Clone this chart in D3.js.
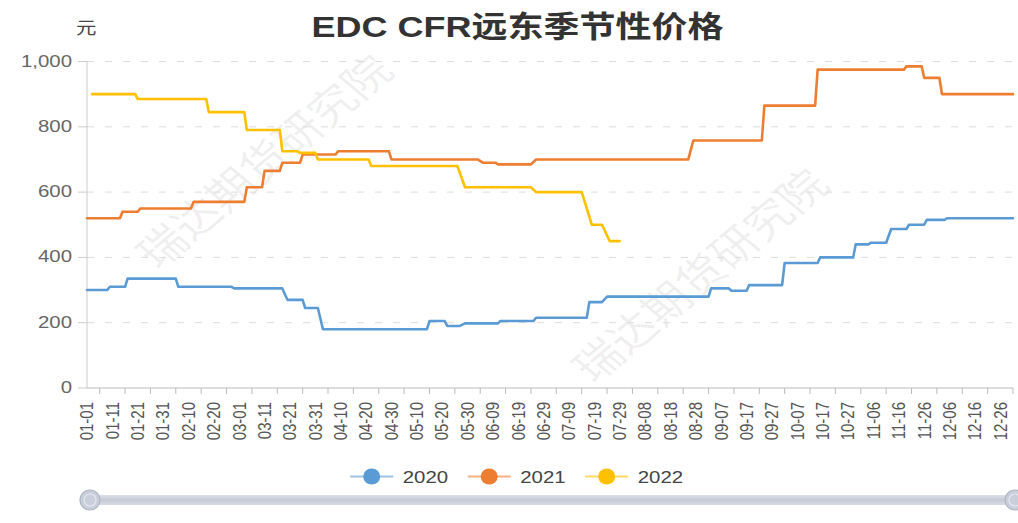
<!DOCTYPE html>
<html><head><meta charset="utf-8">
<script src="https://cdn.jsdelivr.net/npm/d3@7"></script>
<style>html,body{margin:0;padding:0;background:#fff;}svg{display:block;}</style>
</head><body>
<svg id="chart" width="1018" height="523"></svg>
<script>
// ---------- data ----------
const titleText = "EDC CFR远东季节性价格";
const unitText = "元";
const seriesNames = ["2020", "2021", "2022"];
const seriesColors = ["#5B9BD5", "#ED7D31", "#FFC000"];
const yTicks = [0, 200, 400, 600, 800, 1000];
const xTickLabels = ["01-01","01-11","01-21","01-31","02-10","02-20","03-01","03-11","03-21","03-31",
  "04-10","04-20","04-30","05-10","05-20","05-30","06-09","06-19","06-29","07-09","07-19","07-29",
  "08-08","08-18","08-28","09-07","09-17","09-27","10-07","10-17","10-27","11-06","11-16","11-26",
  "12-06","12-16","12-26"];
const s2020 = [["01-01",300],["01-09",300],["01-10",310],["01-16",310],["01-17",335],["02-05",335],["02-06",310],
  ["02-27",310],["02-28",305],["03-18",305],["03-20",270],["03-26",270],["03-27",245],["04-01",245],["04-03",180],
  ["05-14",180],["05-15",205],["05-21",205],["05-22",190],["05-27",190],["05-29",198],["06-11",198],["06-12",205],
  ["06-25",205],["06-26",215],["07-16",215],["07-17",263],["07-22",263],["07-24",280],["09-02",280],["09-03",305],
  ["09-10",305],["09-11",298],["09-17",298],["09-18",315],["10-01",315],["10-02",383],["10-15",383],["10-16",400],
  ["10-29",400],["10-30",440],["11-04",440],["11-05",445],["11-11",445],["11-13",487],["11-19",487],["11-20",500],
  ["11-26",500],["11-27",515],["12-04",515],["12-05",520],["12-31",520]];
const s2021 = [["01-01",520],["01-14",520],["01-15",540],["01-21",540],["01-22",550],["02-11",550],["02-12",570],
  ["03-03",570],["03-04",615],["03-10",615],["03-11",665],["03-17",665],["03-18",690],["03-25",690],["03-26",715],
  ["04-08",715],["04-09",725],["04-29",725],["04-30",700],["06-03",700],["06-05",690],["06-10",690],["06-11",685],
  ["06-24",685],["06-26",700],["08-25",700],["08-27",758],["09-23",758],["09-24",865],["10-14",865],["10-15",975],
  ["11-18",975],["11-19",985],["11-25",985],["11-26",950],["12-02",950],["12-03",900],["12-31",900]];
const s2022 = [["01-03",900],["01-20",900],["01-21",885],["02-17",885],["02-18",845],["03-03",845],["03-04",790],
  ["03-17",790],["03-18",725],["03-24",725],["03-25",720],["03-31",720],["04-01",700],["04-21",700],["04-22",680],
  ["05-26",680],["05-29",615],["06-24",615],["06-26",600],["07-14",600],["07-18",500],["07-22",500],["07-25",450],
  ["07-29",450]];
const watermark = "瑞达期货研究院";

// ---------- layout ----------
const SX = 1.2; // horizontal text stretch of the reference
const FONT = "'Liberation Sans','Noto Sans CJK SC',sans-serif";
const categories = d3.timeDay.range(new Date(2020,0,1), new Date(2021,0,1)).map(d3.timeFormat("%m-%d"));
const svg = d3.select("#chart").style("font-family", FONT);

const x = d3.scalePoint().domain(categories).range([87, 1013]);
const y = d3.scaleLinear().domain([0, 1000]).range([388, 61.5]);

// watermark
[[265,162],[701,276]].forEach(([cx,cy]) => {
  svg.append("text").attr("transform", `translate(${cx},${cy}) scale(${SX},1) rotate(-45)`)
    .attr("text-anchor","middle").attr("dy","0.35em")
    .attr("font-size",40).attr("fill","#000").attr("fill-opacity",0.07)
    .text(watermark);
});

// grid lines
svg.append("g").selectAll("line").data(yTicks.filter(d => d > 0)).join("line")
  .attr("x1", 87).attr("x2", 1013)
  .attr("y1", d => y(d)).attr("y2", d => y(d))
  .attr("stroke", "#dcdcdc").attr("stroke-width", 1).attr("stroke-dasharray", "7,11");

// y axis
const yAxis = svg.append("g");
yAxis.append("line").attr("x1",87).attr("x2",87).attr("y1",y(1000)).attr("y2",y(0)).attr("stroke","#cccccc");
yAxis.selectAll("line.tk").data(yTicks).join("line").attr("class","tk")
  .attr("x1",78).attr("x2",87).attr("y1",d=>y(d)).attr("y2",d=>y(d)).attr("stroke","#cccccc");
yAxis.selectAll("text").data(yTicks).join("text")
  .attr("transform", d => `translate(72,${y(d)+5}) scale(${SX},1)`)
  .attr("text-anchor","end").attr("font-size",17).attr("fill","#666")
  .text(d => d3.format(",")(d));

// x axis
const xAxis = svg.append("g");
xAxis.append("line").attr("x1",87).attr("x2",1013).attr("y1",y(0)).attr("y2",y(0)).attr("stroke","#bbbbbb");
const tickPos = xTickLabels.map((d,i) => i < xTickLabels.length-1 ? (x(d)+x(xTickLabels[i+1]))/2 : null)
  .filter(v => v !== null).concat([x(categories[categories.length-1])]);
xAxis.selectAll("line.tk").data(tickPos).join("line").attr("class","tk")
  .attr("x1",d=>d).attr("x2",d=>d).attr("y1",y(0)).attr("y2",y(0)+6).attr("stroke","#bbbbbb");
xAxis.selectAll("text").data(xTickLabels).join("text")
  .attr("transform", d => `translate(${x(d)},402) scale(${SX},1) rotate(-90)`)
  .attr("text-anchor","end").attr("dy","0.35em").attr("font-size",15).attr("fill","#555")
  .text(d => d);

// lines
const allSeries = [s2020, s2021, s2022];
const line = d3.line().x(d => x(d[0])).y(d => y(d[1]));
svg.append("g").selectAll("path").data(allSeries).join("path")
  .attr("d", line).attr("fill","none")
  .attr("stroke", (d,i) => seriesColors[i]).attr("stroke-width", 2.6)
  .attr("stroke-linejoin","round").attr("stroke-linecap","round");

// title
svg.append("text").attr("transform", `translate(517.5,37) scale(${SX},1)`)
  .attr("text-anchor","middle").attr("font-size",30).attr("font-weight","bold").attr("fill","#333")
  .text(titleText);
svg.append("text").attr("transform", `translate(76,34) scale(${SX},1)`)
  .attr("font-size",17).attr("fill","#444").text(unitText);

// legend
const leg = svg.append("g").selectAll("g").data(seriesNames).join("g")
  .attr("transform", (d,i) => `translate(${371.7 + i*117.5},476.5)`);
leg.append("line").attr("x1",-21.5).attr("x2",21.5).attr("y1",0).attr("y2",0)
  .attr("stroke",(d,i)=>seriesColors[i]).attr("stroke-width",2).attr("stroke-opacity",0.6);
leg.append("ellipse").attr("rx",8.5).attr("ry",8).attr("fill",(d,i)=>seriesColors[i]);
leg.append("text").attr("transform",`translate(31,6) scale(${SX},1)`)
  .attr("font-size",17).attr("fill","#444").text(d=>d);

// data zoom slider
const dz = svg.append("g");
const grad = svg.append("defs").append("linearGradient").attr("id","dzg").attr("x1",0).attr("x2",0).attr("y1",0).attr("y2",1);
grad.append("stop").attr("offset",0).attr("stop-color","#dde1e8");
grad.append("stop").attr("offset",0.5).attr("stop-color","#c4cad5");
grad.append("stop").attr("offset",1).attr("stop-color","#d6dbe3");
dz.append("rect").attr("x",88).attr("y",495).attr("width",925).attr("height",10).attr("rx",3)
  .attr("fill","url(#dzg)");
[88, 1013].forEach(cx => {
  dz.append("circle").attr("cx",cx+2).attr("cy",500).attr("r",10).attr("fill","#c8ceda").attr("stroke","#aeb6c4").attr("stroke-width",1.2);
  dz.append("circle").attr("cx",cx+2).attr("cy",500).attr("r",6).attr("fill","none").attr("stroke","#e3e7ee").attr("stroke-width",1.2);
});
</script>
</body></html>
